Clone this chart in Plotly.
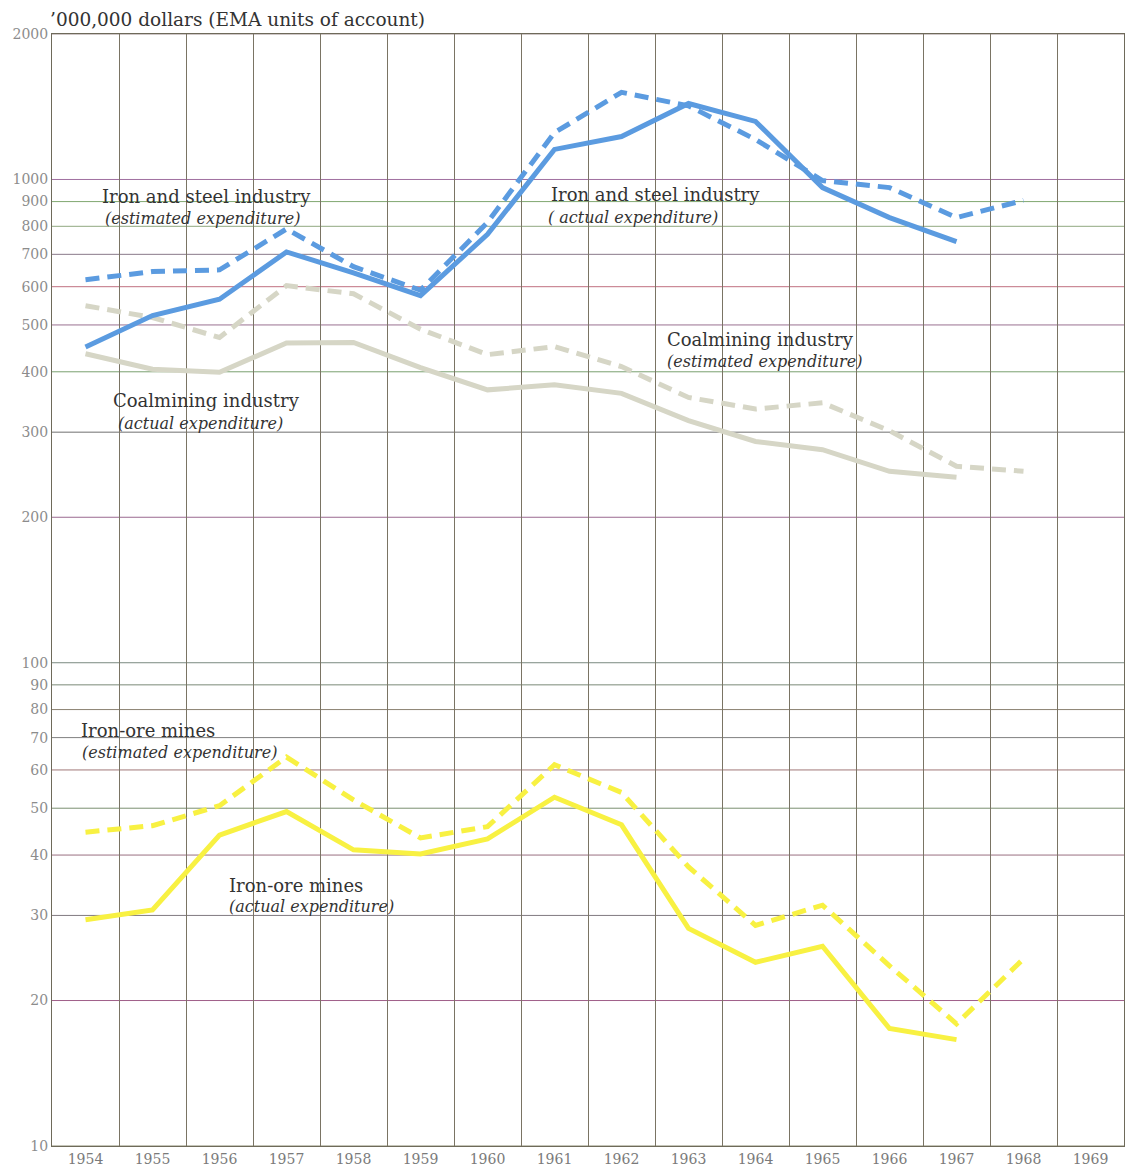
import math
import plotly.graph_objects as go

# Years on the horizontal axis
years = list(range(1954, 1970))

# Capital expenditure, '000,000 dollars (EMA units of account)
steel_est_years = list(range(1954, 1969))
steel_est = [620, 645, 650, 790, 660, 590, 815, 1250, 1515, 1420, 1210, 995, 962, 834, 905]
steel_act_years = list(range(1954, 1968))
steel_act = [450, 523, 565, 708, 641, 575, 770, 1154, 1227, 1436, 1319, 962, 834, 744]

coal_est_years = list(range(1954, 1969))
coal_est = [548, 518, 471, 603, 580, 490, 434, 451, 410, 354, 335, 345, 302, 255, 249]
coal_act_years = list(range(1954, 1968))
coal_act = [436, 405, 399, 459, 460, 408, 367, 376, 361, 317, 287, 276, 249, 242]

ore_est_years = list(range(1954, 1969))
ore_est = [44.6, 46.0, 50.6, 63.8, 52.0, 43.4, 45.8, 61.5, 53.9, 37.8, 28.6, 31.5, 23.6, 17.9, 24.4]
ore_act_years = list(range(1954, 1968))
ore_act = [29.4, 30.8, 44.0, 49.2, 41.0, 40.2, 43.2, 52.7, 46.2, 28.2, 24.0, 25.9, 17.5, 16.6]

# Value axis ticks
y_ticks = [10, 20, 30, 40, 50, 60, 70, 80, 90, 100,
           200, 300, 400, 500, 600, 700, 800, 900, 1000, 2000]
y_tick_text = [str(v) for v in y_ticks]

# Printed grid: each horizontal rule has its own ink
grid_colors = ["#8a8a70", "#a0608a", "#807a80", "#9a7080", "#7a9070",
               "#a07878", "#808080", "#8a8070", "#7a8a78", "#7a8a80",
               "#9a6a90", "#707070", "#7aa070", "#9a7090", "#c07080",
               "#8a7a8a", "#90a880", "#80a870", "#a070a0", "#a09090"]

BLUE = "#5b9be0"
GREY = "#d6d6c6"
YELLOW = "#f8f142"
SERIF = "DejaVu Serif, Liberation Serif, serif"

fig = go.Figure()


def add_line(xs, ys, color, dashed):
    fig.add_trace(go.Scatter(
        x=xs, y=ys, mode="lines",
        line=dict(color=color, width=5,
                  dash="14px,8px" if dashed else "solid"),
        showlegend=False, hoverinfo="x+y",
    ))


add_line(coal_act_years, coal_act, GREY, False)
add_line(coal_est_years, coal_est, GREY, True)
add_line(steel_act_years, steel_act, BLUE, False)
add_line(steel_est_years, steel_est, BLUE, True)
add_line(ore_act_years, ore_act, YELLOW, False)
add_line(ore_est_years, ore_est, YELLOW, True)

# Horizontal rules at every labelled value
for v, c in zip(y_ticks, grid_colors):
    fig.add_shape(type="line", xref="paper", x0=0, x1=1, yref="y", y0=v, y1=v,
                  line=dict(color=c, width=1), layer="below")

# Series labels (name + kind of expenditure)
labels = [
    ("Iron and steel industry", 1955.80, 2.965, False),
    ("(estimated expenditure)", 1955.75, 2.919, True),
    ("Iron and steel industry", 1962.50, 2.969, False),
    ("( actual expenditure)", 1962.17, 2.921, True),
    ("Coalmining industry", 1964.08, 2.669, False),
    ("(estimated expenditure)", 1964.13, 2.623, True),
    ("Coalmining industry", 1955.81, 2.542, False),
    ("(actual expenditure)", 1955.71, 2.495, True),
    ("Iron-ore mines", 1954.93, 1.859, False),
    ("(estimated expenditure)", 1955.41, 1.814, True),
    ("Iron-ore mines", 1957.14, 1.540, False),
    ("(actual expenditure)", 1957.37, 1.495, True),
]
for text, lx, ly, italic in labels:
    fig.add_annotation(
        x=lx, y=ly, xref="x", yref="y",
        text=f"<i>{text}</i>" if italic else text,
        showarrow=False, xanchor="center", yanchor="middle",
        font=dict(family=SERIF, size=16 if italic else 18, color="#333333"),
    )

fig.add_annotation(
    x=-0.004, y=1.0, xref="paper", yref="paper", xanchor="left", yanchor="bottom",
    yshift=2, showarrow=False,
    text="\u2019000,000 dollars (EMA units of account)",
    font=dict(family=SERIF, size=18.5, color="#333333"),
)

fig.update_layout(
    width=1128, height=1170,
    margin=dict(l=52, r=4, t=34, b=24),
    paper_bgcolor="white", plot_bgcolor="white",
    font=dict(family=SERIF),
    xaxis=dict(
        range=[1953.5, 1969.5],
        tickmode="array", tickvals=years, ticktext=[str(y) for y in years],
        showgrid=False, zeroline=False, ticks="",
        tickfont=dict(family=SERIF, size=14, color="#7a7a7a"),
        showline=True, linecolor="#6e6a5a", linewidth=1, mirror=True,
        minor=dict(tick0=1953.5, dtick=1, showgrid=True,
                   gridcolor="#7a7464", gridwidth=1, ticks=""),
    ),
    yaxis=dict(
        type="log", range=[1, math.log10(2000)],
        tickmode="array", tickvals=y_ticks, ticktext=y_tick_text,
        showgrid=False, zeroline=False, ticks="",
        tickfont=dict(family=SERIF, size=14, color="#8c8c8c"),
        showline=True, linecolor="#6e6a5a", linewidth=1, mirror=True,
    ),
)

fig.write_html("out.html")
